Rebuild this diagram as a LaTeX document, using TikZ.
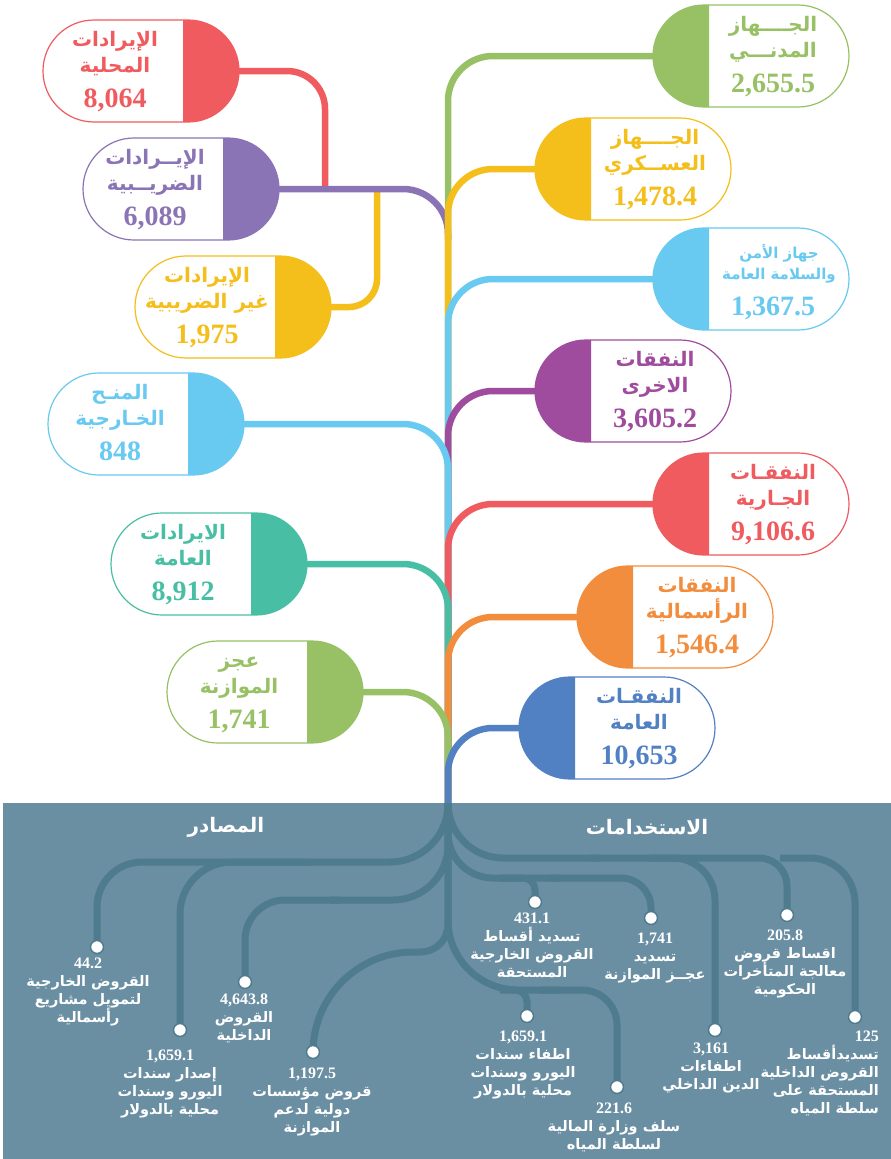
\documentclass[tikz,border=0pt]{standalone}
\usepackage{fontspec}
\usetikzlibrary{shapes.misc}
\TeXXeTstate=1
\newfontfamily\arabicfont[Script=Arabic]{DejaVu Sans}
\newfontfamily\numfont{Liberation Serif}
\newcommand\ar[1]{{\arabicfont\beginR #1\endR}}
\newcommand\numb[1]{{\numfont\bfseries\fontsize{16}{18}\selectfont #1}}
\definecolor{cRed}{HTML}{EF5B5E}
\definecolor{cPurple}{HTML}{8B74B5}
\definecolor{cYellow}{HTML}{F4BE1B}
\definecolor{cLBlue}{HTML}{68C9F1}
\definecolor{cTeal}{HTML}{48BFA4}
\definecolor{cGreen}{HTML}{97C164}
\definecolor{cMag}{HTML}{A04C9E}
\definecolor{cOrange}{HTML}{F28D3E}
\definecolor{cBlue}{HTML}{5180C3}
\definecolor{panel}{HTML}{6A8FA2}
\definecolor{panelline}{HTML}{4F7B8E}
\tikzset{
 pillbox/.style={rounded rectangle, minimum width=196pt, minimum height=102pt, inner sep=0pt, outer sep=0pt, line width=1.2pt, fill=white},
 conn/.style={line width=6.5pt, rounded corners=45pt},
 fanline/.style={line width=7pt, draw=panelline},
 fandot/.style={circle, fill=white, draw=panelline, line width=1.5pt, minimum size=13pt, inner sep=0pt},
 ptxt/.style={anchor=base, inner sep=0pt, font=\arabicfont\bfseries\fontsize{20}{22}\selectfont},
 pnum/.style={anchor=base, inner sep=0pt, font=\numfont\bfseries\fontsize{28}{30}\selectfont},
 lbl/.style={anchor=north, inner sep=0pt, align=center, text=white, font=\arabicfont\bfseries\fontsize{14.5}{18}\selectfont},
 paneltitle/.style={inner sep=0pt, text=white, font=\arabicfont\bfseries\fontsize{20}{24}\selectfont},
}
\newcommand\pillCapRight[4]{%
  \node[pillbox, draw=#4] (#1) at (#2,#3) {};
  \begin{scope}
    \clip (#2+42,#3-52) rectangle (#2+100,#3+52);
    \fill[#4] (#2+47,#3) circle[radius=51pt];
  \end{scope}}
\newcommand\pillCapLeft[4]{%
  \node[pillbox, draw=#4] (#1) at (#2,#3) {};
  \begin{scope}
    \clip (#2-100,#3-52) rectangle (#2-42,#3+52);
    \fill[#4] (#2-47,#3) circle[radius=51pt];
  \end{scope}}
\newcommand\pilltext[7]{%
  \node[ptxt, text=#4] (#1-a) at (#2,#3-25) {#5};
  \node[ptxt, text=#4] (#1-b) at (#2,#3+1) {#6};
  \node[pnum, text=#4] (#1-n) at (#2,#3+36) {#7};}
\begin{document}
\begin{tikzpicture}[x=1pt,y=-1pt]
\useasboundingbox (0,0) rectangle (891,1159);
\fill[white] (0,0) rectangle (891,1159);
% bottom panel
\fill[panel] (3,803) rectangle (891,1159);
% connectors (upper part)
\draw[conn, cRed, rounded corners=38pt] (141+98,71) -- (325,71) -- (325,189);
\draw[conn, cYellow, rounded corners=28pt] (233+98,307) -- (377,307) -- (377,189);
\draw[conn, cPurple] (181+98,189) -- (448,189) -- (448,240);
\draw[conn, cGreen] (751-98,56) -- (448,56) -- (448,803);
\draw[conn, cYellow] (633-98,169) -- (448,169) -- (448,803);
\draw[conn, cLBlue] (751-98,279) -- (448,279) -- (448,803);
\draw[conn, cMag] (633-98,391) -- (448,391) -- (448,803);
\draw[conn, cLBlue] (146+98,424) -- (448,424) -- (448,803);
\draw[conn, cRed] (751-98,504) -- (448,504) -- (448,803);
\draw[conn, cTeal] (209+98,564) -- (448,564) -- (448,803);
\draw[conn, cOrange] (675-98,617) -- (448,617) -- (448,803);
\draw[conn, cGreen] (265+98,692) -- (448,692) -- (448,803);
\draw[conn, cBlue] (617-98,728) -- (448,728) -- (448,803);
% pills left
\pillCapRight{rL}{141}{71}{cRed}
\pillCapRight{pL}{181}{189}{cPurple}
\pillCapRight{yL}{233}{307}{cYellow}
\pillCapRight{bL}{146}{424}{cLBlue}
\pillCapRight{tL}{209}{564}{cTeal}
\pillCapRight{gL}{265}{692}{cGreen}
% pills right
\pillCapLeft{gR}{751}{56}{cGreen}
\pillCapLeft{yR}{633}{169}{cYellow}
\pillCapLeft{bR}{751}{279}{cLBlue}
\pillCapLeft{mR}{633}{391}{cMag}
\pillCapLeft{rR}{751}{504}{cRed}
\pillCapLeft{oR}{675}{617}{cOrange}
\pillCapLeft{dR}{617}{728}{cBlue}
% pill texts
\pilltext{rLt}{115}{71}{cRed}{\ar{الإيرادات}}{\ar{المحلية}}{8,064}
\pilltext{pLt}{155}{189}{cPurple}{\ar{الإيــرادات}}{\ar{الضريــبية}}{6,089}
\pilltext{yLt}{207}{307}{cYellow}{\ar{الإيرادات}}{\ar{غير الضريبية}}{1,975}
\pilltext{bLt}{120}{424}{cLBlue}{\ar{المنـح}}{\ar{الخـارجية}}{848}
\pilltext{tLt}{183}{564}{cTeal}{\ar{الايرادات}}{\ar{العامة}}{8,912}
\pilltext{gLt}{239}{692}{cGreen}{\ar{عجز}}{\ar{الموازنة}}{1,741}
\pilltext{gRt}{773}{56}{cGreen}{\ar{الجــــهاز}}{\ar{المدنـــي}}{2,655.5}
\pilltext{yRt}{655}{169}{cYellow}{\ar{الجــــهاز}}{\ar{العســكري}}{1,478.4}
\pilltext{mRt}{655}{391}{cMag}{\ar{النفقات}}{\ar{الاخرى}}{3,605.2}
\pilltext{rRt}{773}{504}{cRed}{\ar{النفقـات}}{\ar{الجـارية}}{9,106.6}
\pilltext{oRt}{697}{617}{cOrange}{\ar{النفقات}}{\ar{الرأسمالية}}{1,546.4}
\pilltext{dRt}{639}{728}{cBlue}{\ar{النفقـات}}{\ar{العامة}}{10,653}
\node[anchor=base, inner sep=0pt, text=cLBlue, font=\arabicfont\bfseries\fontsize{15}{17}\selectfont] (bRt-a) at (779,258) {\ar{جهاز الأمن}};
\node[anchor=base, inner sep=0pt, text=cLBlue, font=\arabicfont\bfseries\fontsize{15}{17}\selectfont] (bRt-b) at (779,279) {\ar{والسلامة العامة}};
\node[pnum, text=cLBlue] (bRt-n) at (773,315) {1,367.5};
% fan lines
\begin{scope}
\clip (3,803) rectangle (891,1159);
\draw[fanline, rounded corners=70pt] (448,700) -- (448,990) -- (560,990);
\draw[fanline, rounded corners=35pt] (540,990) -- (617,990) -- (617,1087);
\draw[fanline, rounded corners=12pt] (500,990) -- (527,990) -- (527,1016);
\draw[fanline, rounded corners=58pt] (448,700) -- (448,862) -- (300,862);
\draw[fanline, rounded corners=45pt] (310,862) -- (97,862) -- (97,947);
\draw[fanline, rounded corners=52pt] (300,862) -- (180,862) -- (180,1030);
\draw[fanline, rounded corners=55pt] (448,700) -- (448,900) -- (330,900);
\draw[fanline, rounded corners=40pt] (340,900) -- (245,900) -- (245,982);
\draw[fanline] (448,700) -- (448,924) .. controls (448,940) and (436,952) .. (420,952) -- (413,952) .. controls (358,952) and (313,997) .. (313,1052);
\draw[fanline, rounded corners=55pt] (448,700) -- (448,858) -- (600,858);
\draw[fanline, rounded corners=28pt] (590,858) -- (787,858) -- (787,915);
\draw[fanline, rounded corners=45pt] (780,858) -- (855,858) -- (855,1017);
\draw[fanline, rounded corners=42pt] (650,858) -- (715,858) -- (715,1030);
\draw[fanline, rounded corners=45pt] (448,700) -- (448,878) -- (560,878);
\draw[fanline, rounded corners=30pt] (550,878) -- (651,878) -- (651,918);
\draw[fanline, rounded corners=12pt] (500,878) -- (535,878) -- (535,902);
\end{scope}
% dots
\node[fandot] (d1) at (97,947) {};
\node[fandot] (d2) at (180,1030) {};
\node[fandot] (d3) at (245,982) {};
\node[fandot] (d4) at (313,1052) {};
\node[fandot] (d5) at (535,902) {};
\node[fandot] (d6) at (651,918) {};
\node[fandot] (d7) at (787,915) {};
\node[fandot] (d8) at (855,1017) {};
\node[fandot] (d9) at (715,1030) {};
\node[fandot] (d10) at (527,1016) {};
\node[fandot] (d11) at (617,1087) {};
% titles
\node[paneltitle] (srcT) at (226,827) {\ar{المصادر}};
\node[paneltitle] (useT) at (647,827) {\ar{الاستخدامات}};
% labels
\node[lbl] (t1) at (88,958) {\numb{44.2}\\\ar{القروض الخارجية}\\\ar{لتمويل مشاريع}\\\ar{رأسمالية}};
\node[lbl] (t2) at (170,1050) {\numb{1,659.1}\\\ar{إصدار سندات}\\\ar{اليورو وسندات}\\\ar{محلية بالدولار}};
\node[lbl] (t3) at (244,994) {\numb{4,643.8}\\\ar{القروض}\\\ar{الداخلية}};
\node[lbl] (t4) at (312,1068) {\numb{1,197.5}\\\ar{قروض مؤسسات}\\\ar{دولية لدعم}\\\ar{الموازنة}};
\node[lbl] (t5) at (532,913) {\numb{431.1}\\\ar{تسديد أقساط}\\\ar{القروض الخارجية}\\\ar{المستحقة}};
\node[lbl] (t6) at (655,933) {\numb{1,741}\\\ar{تسديد}\\\ar{عجــز الموازنة}};
\node[lbl] (t7) at (785,930) {\numb{205.8}\\\ar{اقساط قروض}\\\ar{معالجة المتأخرات}\\\ar{الحكومية}};
\node[lbl] (t8) at (523,1031) {\numb{1,659.1}\\\ar{اطفاء سندات}\\\ar{اليورو وسندات}\\\ar{محلية بالدولار}};
\node[lbl] (t9) at (614,1103) {\numb{221.6}\\\ar{سلف وزارة المالية}\\\ar{لسلطة المياه}};
\node[lbl] (t10) at (711,1043) {\numb{3,161}\\\ar{اطفاءات}\\\ar{الدين الداخلي}};
\node[lbl, anchor=north east, align=right] (t11) at (879,1031) {\numb{125}\\\ar{تسديدأقساط}\\\ar{القروض الداخلية}\\\ar{المستحقة على}\\\ar{سلطة المياه}};
\end{tikzpicture}
\end{document}
